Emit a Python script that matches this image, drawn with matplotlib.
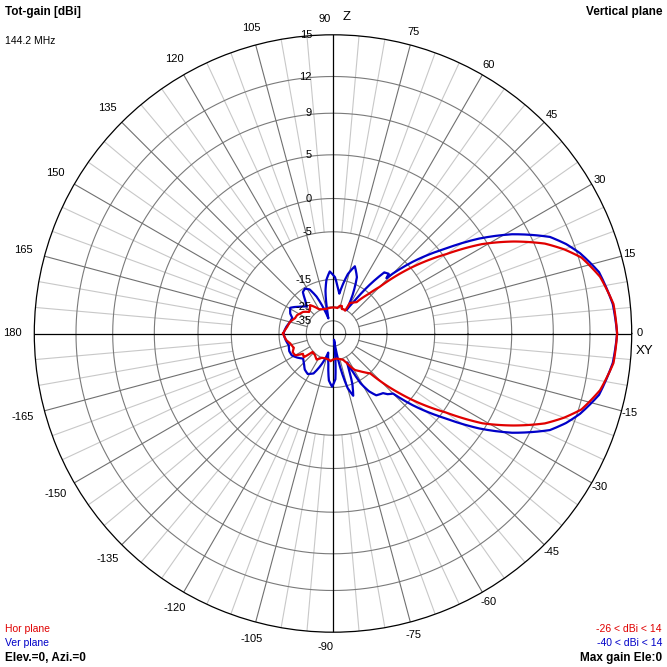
import numpy as np
import matplotlib
matplotlib.use("Agg")
import matplotlib.pyplot as plt

plt.rcParams['font.family'] = ['Liberation Sans', 'DejaVu Sans']

# gain rings (dBi) and their distance from the centre in pixels (non-linear MMANA scale)
ring_db = [-35, -25, -15, -5, 0, 5, 9, 12, 15]
ring_px = [12.7, 26.7, 54, 101.7, 135, 178.7, 220.3, 257, 298.7]

# Hor plane (red)
hor_deg = [-180, -172, -167, -160, -155, -150, -146, -141, -138, -130,
           -122, -115, -108, -100, -95, -90, -82, -75, -69, -65,
           -62, -59, -55, -51, -47, -44, -42, -40, -35, -31,
           -27, -23, -20, -17, -12, -6, 0, 6, 12, 17,
           20, 23, 27, 31, 35, 40, 42, 45, 48, 53,
           58, 61, 62, 66, 70, 72, 76, 80, 85, 90,
           95, 100, 105, 110, 115, 120, 125, 129, 133, 138,
           144, 148, 153, 158, 165, 172, 180]
hor_db = [-16.5, -17.5, -18.7, -19.5, -18.5, -18.8, -21.5, -21.0, -24.7, -24.5,
          -23.5, -25.0, -25.5, -25.3, -24.6, -25.5, -26.0, -25.2, -24.5, -22.9,
          -21.0, -19.2, -18.0, -16.5, -14.9, -10.5, -7.7, -4.8, 0.3, 4.5,
          7.3, 9.8, 11.1, 12.2, 13.15, 13.8, 13.95, 13.8, 13.15, 12.2,
          11.1, 9.8, 7.3, 4.4, 0.4, -4.8, -7.8, -12.5, -15.3, -20.4,
          -21.5, -22.0, -25.6, -25.2, -25.5, -24.2, -24.3, -25.6, -25.5, -25.5,
          -25.6, -25.7, -25.9, -25.5, -25.0, -24.5, -22.8, -21.4, -22.5, -23.0,
          -21.3, -20.8, -20.0, -19.8, -18.5, -17.8, -16.5]

# Ver plane (blue)
ver_deg = [-180, -172, -165, -158, -152, -146, -140, -134, -128, -122,
           -116, -110, -104, -99, -95, -91, -87, -84, -81, -78,
           -75, -72, -69, -66, -64, -61, -58, -55, -50, -48,
           -45, -42, -37, -33, -29, -24, -21, -18, -13, -6,
           0, 6, 13, 18, 21, 24, 29, 33, 37, 42,
           45, 46, 47, 50, 53, 56, 60, 63, 67, 72,
           76, 79, 81, 84, 88, 93, 97, 100, 104, 107,
           110, 114, 118, 122, 126, 130, 134, 140, 149, 155,
           159, 165, 172, 180]
ver_db = [-16.6, -17.3, -18.0, -17.5, -17.7, -19.0, -20.5, -19.5, -18.0, -17.3,
          -18.5, -23.0, -30.0, -24.0, -17.5, -15.3, -18.0, -30.0, -40.0, -22.0,
          -14.5, -12.6, -15.0, -21.0, -23.0, -14.4, -12.0, -10.5, -10.0, -9.2,
          -8.5, -4.2, 0.7, 4.5, 7.5, 10.4, 11.4, 12.2, 13.15, 13.75,
          13.95, 13.75, 13.15, 12.2, 11.4, 10.4, 7.5, 4.5, 0.7, -4.2,
          -8.5, -10.2, -9.2, -9.6, -13.5, -19.4, -24.8, -19.0, -13.5, -11.5,
          -13.5, -17.0, -20.0, -18.0, -14.5, -13.3, -15.0, -19.0, -27.0, -32.8,
          -26.0, -20.0, -16.5, -15.4, -16.0, -19.0, -21.0, -19.5, -16.5, -17.5,
          -18.8, -18.5, -17.5, -16.6]

angle_labels = [0, 15, 30, 45, 60, 75, 90, 105, 120, 135, 150, 165, 180,
                -165, -150, -135, -120, -105, -90, -75, -60, -45, -30, -15]

RED = '#e00000'
BLUE = '#0000c8'
W = 667.0
cx, cy = 333.0, 333.5
R = 298.7

# dB -> pixel radius, extended past the rings so the scale is defined everywhere
sc_db = [-45] + ring_db + [40]
sc_px = [0.0] + ring_px + [R + 25 * 13.9]


def fwd(v):
    return np.interp(v, sc_db, sc_px)


def inv(v):
    return np.interp(v, sc_px, sc_db)


def fxy(x, y):
    return x / W, 1 - y / W


fig = plt.figure(figsize=(6.67, 6.67), dpi=100)
ax = fig.add_axes([(cx - R) / W, (W - cy - R) / W, 2 * R / W, 2 * R / W], projection='polar')
ax.set_rscale('function', functions=(fwd, inv))
ax.set_rlim(-45, 15)
ax.set_xticks([])
ax.set_yticks([])
ax.grid(False)
ax.spines['polar'].set_color('black')
ax.spines['polar'].set_linewidth(0.9)

# rings
tt = np.linspace(0, 2 * np.pi, 721)
for db in ring_db[:-1]:
    ax.plot(tt, np.full_like(tt, db), color='#7a7a7a', lw=0.8, zorder=1)

# spokes
for a in range(0, 360, 5):
    t = np.deg2rad(a)
    if a % 90 == 0:
        ax.plot([t, t], [-45, 15], color='black', lw=0.9, zorder=2)
    elif a % 15 == 0:
        ax.plot([t, t], [-25, 15], color='#707070', lw=0.8, zorder=1)
    else:
        ax.plot([t, t], [-5, 15], color='#c8c8c8', lw=0.8, zorder=0.9)

# patterns, drawn as curves in polar space between the samples
for deg, db, col, z in [(ver_deg, ver_db, BLUE, 3), (hor_deg, hor_db, RED, 4)]:
    ln, = ax.plot(np.deg2rad(deg), db, color=col, lw=1.6, zorder=z)
    ln.get_path()._interpolation_steps = 12
    ln.recache(always=True)
    ln.get_path()._interpolation_steps = 12

# ring labels
for db in ring_db:
    ax.annotate(str(db), xy=(np.pi / 2, db), xytext=(-21, 0), textcoords='offset pixels',
                ha='right', va='center', fontsize=8, annotation_clip=False)

# angle labels
for a in angle_labels:
    t = np.deg2rad(a)
    d = 314 - 7 * np.cos(t)
    x = cx + d * np.cos(t)
    y = cy - d * np.sin(t)
    if abs(a) == 90:
        x -= 8
    fig.text(*fxy(x, y), str(a), ha='center', va='center', fontsize=8)

fig.text(*fxy(347, 17), 'Z', ha='center', va='center', fontsize=9.5)
fig.text(*fxy(645, 351), 'XY', ha='center', va='center', fontsize=9.5)

fig.text(*fxy(5, 12), 'Tot-gain [dBi]', ha='left', va='center', fontsize=8.5, fontweight='bold')
fig.text(*fxy(5, 41), '144.2 MHz', ha='left', va='center', fontsize=7.5)
fig.text(*fxy(662, 12), 'Vertical plane', ha='right', va='center', fontsize=8.5, fontweight='bold')

fig.text(*fxy(5, 629), 'Hor plane', ha='left', va='center', fontsize=7.5, color=RED)
fig.text(*fxy(5, 643), 'Ver plane', ha='left', va='center', fontsize=7.5, color=BLUE)
fig.text(*fxy(5, 658), 'Elev.=0, Azi.=0', ha='left', va='center', fontsize=8.5, fontweight='bold')

fig.text(*fxy(662, 629), '-26 < dBi < 14', ha='right', va='center', fontsize=7.5, color=RED)
fig.text(*fxy(662, 643), '-40 < dBi < 14', ha='right', va='center', fontsize=7.5, color=BLUE)
fig.text(*fxy(662, 658), 'Max gain Ele:0', ha='right', va='center', fontsize=8.5, fontweight='bold')

fig.savefig('out.png', dpi=100)
